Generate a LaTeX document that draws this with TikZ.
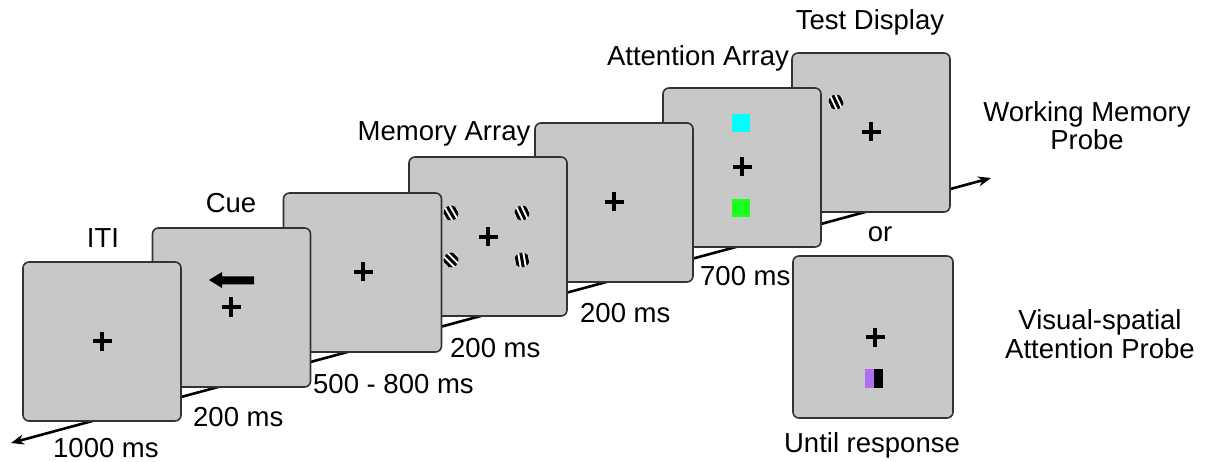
\documentclass[tikz,border=0pt]{standalone}
\usepackage{fontspec}
\setmainfont{Liberation Sans}
\usetikzlibrary{arrows.meta}
\definecolor{panelgray}{RGB}{200,200,200}
\definecolor{cuecyan}{RGB}{0,255,255}
\definecolor{cuegreen}{RGB}{30,255,30}
\definecolor{probepurple}{RGB}{176,110,240}
\newcommand\lbfont{\fontsize{27.5}{32}\selectfont}
\newcommand\fixcross[1]{\draw[fixline] (#1) ++(-9.5,0) -- ++(19,0) (#1) ++(0,-9.5) -- ++(0,19);}
\newcommand\grating[3]{%
  \begin{scope}[shift={(#1,#2)}]
    \fill[white] (0,0) circle (7.5pt);
    \begin{scope}
      \clip (0,0) circle (7.5pt);
      \begin{scope}[rotate=#3]
        \fill[black] (-6.6,-9) rectangle (-3.6,9);
        \fill[black] (-1.5,-9) rectangle (1.5,9);
        \fill[black] (3.6,-9) rectangle (6.6,9);
      \end{scope}
    \end{scope}
  \end{scope}}
\tikzset{
  panelbox/.style={draw=black!80, fill=panelgray, line width=1.6pt, rounded corners=6pt,
    minimum width=158pt, minimum height=159pt, inner sep=0pt},
  lbl/.style={font=\lbfont, inner sep=0pt, anchor=base},
  tlbl/.style={font=\lbfont, inner sep=0pt, anchor=base west},
  fixline/.style={line width=3.4pt, black},
  timeline/.style={line width=2.6pt, {Stealth[length=13pt,width=10pt]}-{Stealth[length=13pt,width=10pt]}},
  colsq/.style={minimum size=18pt, inner sep=0pt, draw=none}
}
\begin{document}
\begin{tikzpicture}[x=1pt,y=-1pt]
\useasboundingbox (0,0) rectangle (1207,462);
% timeline behind everything
\coordinate (tl0) at (11,443);
\coordinate (tl1) at (991,178);
\draw[timeline] (tl0) -- (tl1);

% panel 7: test display
\node[panelbox] (p7) at (871,132.5) {};
\grating{836}{102}{25}
\coordinate (c7) at (871,132);
\fixcross{c7}

% panel 6: attention array
\node[panelbox] (p6) at (742,167.5) {};
\node[colsq, fill=cuecyan] (cyansq) at (741,123) {};
\node[colsq, fill=cuegreen] (greensq) at (741,208) {};
\coordinate (c6) at (742,167);
\fixcross{c6}

% panel 5
\node[panelbox] (p5) at (614,202.5) {};
\coordinate (c5) at (614,202);
\fixcross{c5}

% panel 4: memory array
\node[panelbox] (p4) at (488,236.5) {};
\grating{451}{213}{30}
\grating{522}{213}{25}
\grating{451}{260}{45}
\grating{522}{260}{10}
\coordinate (c4) at (488,237);
\fixcross{c4}

% panel 3
\node[panelbox] (p3) at (362.5,272.5) {};
\coordinate (c3) at (363,272);
\fixcross{c3}

% panel 2: cue
\node[panelbox] (p2) at (231.5,307.5) {};
\fill[black] (209,280) -- (222,272) -- (222,276.5) -- (254,276.5) -- (254,284.5) -- (222,284.5) -- (222,288) -- cycle;
\coordinate (c2) at (231,307);
\fixcross{c2}

% panel 1: ITI
\node[panelbox] (p1) at (102,341.5) {};
\coordinate (c1) at (102,341);
\fixcross{c1}

% panel 8: attention probe
\node[panelbox, minimum width=160pt, minimum height=162pt] (p8) at (873,337) {};
\coordinate (c8) at (875,337);
\fixcross{c8}
\fill[probepurple] (865,369) rectangle (874,388);
\fill[black] (874,369) rectangle (883,388);

% labels
\node[lbl] (lITI) at (103,248) {ITI};
\node[lbl] (lCue) at (231,213) {Cue};
\node[lbl] (lMem) at (444,141) {Memory Array};
\node[lbl] (lAtt) at (698,66) {Attention Array};
\node[lbl] (lTest) at (870,30) {Test Display};
\node[lbl] (lWM1) at (1087,122) {Working Memory};
\node[lbl] (lWM2) at (1087,150) {Probe};
\node[lbl] (lor) at (880,242) {or};
\node[lbl] (lVS1) at (1100,329) {Visual-spatial};
\node[lbl] (lVS2) at (1100,358) {Attention Probe};
\node[lbl] (lUntil) at (872,452) {Until response};

\node[tlbl] (t1) at (53,457) {1000 ms};
\node[tlbl] (t2) at (193,426) {200 ms};
\node[tlbl] (t3) at (313,393) {500 - 800 ms};
\node[tlbl] (t4) at (450,357) {200 ms};
\node[tlbl] (t5) at (580,323) {200 ms};
\node[tlbl] (t6) at (700,286) {700 ms};
\end{tikzpicture}
\end{document}
